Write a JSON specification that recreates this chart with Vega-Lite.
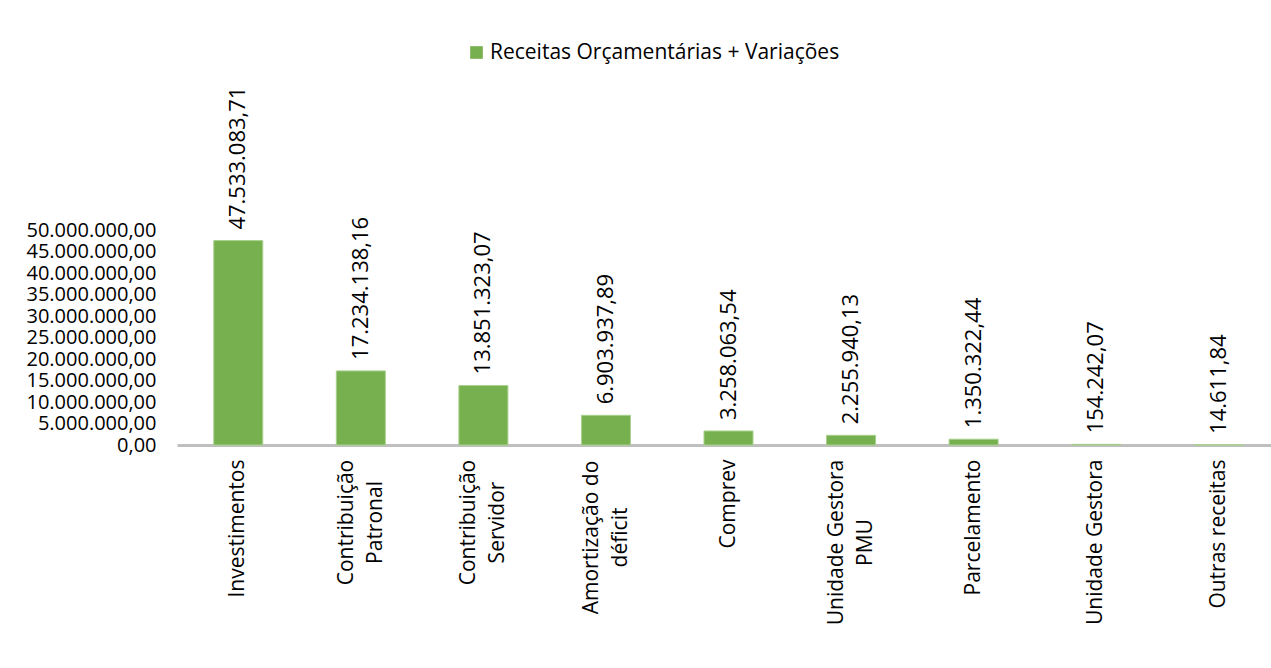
{
  "$schema": "https://vega.github.io/schema/vega-lite/v6.json",
  "autosize": {"type": "none"},
  "width": 1103,
  "height": 215,
  "padding": {"left": 177, "top": 230, "right": 0, "bottom": 223},
  "background": "#ffffff",
  "config": {
    "view": {"stroke": null},
    "locale": {"number": {"decimal": ",", "thousands": ".", "grouping": [3], "currency": ["R$", ""]}},
    "font": "Open Sans"
  },
  "data": {
    "values": [
      {"categoria": "Investimentos", "valor": 47533083.71, "serie": "Receitas Orçamentárias + Variações"},
      {"categoria": "Contribuição|Patronal", "valor": 17234138.16, "serie": "Receitas Orçamentárias + Variações"},
      {"categoria": "Contribuição|Servidor", "valor": 13851323.07, "serie": "Receitas Orçamentárias + Variações"},
      {"categoria": "Amortização do|déficit", "valor": 6903937.89, "serie": "Receitas Orçamentárias + Variações"},
      {"categoria": "Comprev", "valor": 3258063.54, "serie": "Receitas Orçamentárias + Variações"},
      {"categoria": "Unidade Gestora|PMU", "valor": 2255940.13, "serie": "Receitas Orçamentárias + Variações"},
      {"categoria": "Parcelamento", "valor": 1350322.44, "serie": "Receitas Orçamentárias + Variações"},
      {"categoria": "Unidade Gestora", "valor": 154242.07, "serie": "Receitas Orçamentárias + Variações"},
      {"categoria": "Outras receitas", "valor": 14611.84, "serie": "Receitas Orçamentárias + Variações"}
    ]
  },
  "encoding": {
    "x": {
      "field": "categoria",
      "type": "nominal",
      "sort": null,
      "scale": {"paddingInner": 0.6, "paddingOuter": 0.3},
      "axis": {
        "title": null,
        "labelAngle": -90,
        "labelAlign": {"condition": {"test": "indexof(datum.value, '|') >= 0", "value": "center"}, "value": "right"},
        "labelBaseline": "middle",
        "labelExpr": "split(datum.value, '|')",
        "labelLineHeight": 29,
        "labelFontSize": 21,
        "labelColor": "#000000",
        "labelPadding": {"condition": [
          {"test": "indexof(datum.value, 'Contribui') == 0", "value": 77},
          {"test": "indexof(datum.value, 'Amortiza') == 0", "value": 92},
          {"test": "datum.value == 'Unidade Gestora|PMU'", "value": 97}
        ], "value": 14},
        "labelOffset": {"condition": {"test": "indexof(datum.value, '|') >= 0", "value": -14}, "value": 0},
        "ticks": false,
        "domainColor": "#bfbfbf",
        "domainWidth": 3,
        "labelOverlap": false,
        "labelLimit": 300
      }
    },
    "y": {
      "field": "valor",
      "type": "quantitative",
      "scale": {"domain": [0, 50000000]},
      "axis": {
        "title": null,
        "format": ",.2f",
        "values": [0, 5000000, 10000000, 15000000, 20000000, 25000000, 30000000, 35000000, 40000000, 45000000, 50000000],
        "domain": false,
        "ticks": false,
        "grid": false,
        "labelFontSize": 20,
        "labelColor": "#000000",
        "labelPadding": 21,
        "labelOverlap": false
      }
    }
  },
  "layer": [
    {
      "mark": {"type": "bar", "stroke": "#a9d18e", "strokeWidth": 1},
      "encoding": {
        "color": {
          "field": "serie",
          "type": "nominal",
          "scale": {"range": ["#77b04f"]},
          "legend": {
            "title": null,
            "orient": "none",
            "legendX": 289,
            "legendY": -188,
            "symbolType": "square",
            "symbolSize": 160,
            "symbolStrokeWidth": 0,
            "labelFontSize": 21,
            "labelColor": "#000000",
            "labelLimit": 500,
            "labelOffset": 3
          }
        }
      }
    },
    {
      "mark": {"type": "text", "angle": 270, "align": "left", "baseline": "middle", "dx": 11, "fontSize": 22, "color": "#000000"},
      "encoding": {
        "text": {"field": "valor", "type": "quantitative", "format": ",.2f"}
      }
    }
  ]
}
